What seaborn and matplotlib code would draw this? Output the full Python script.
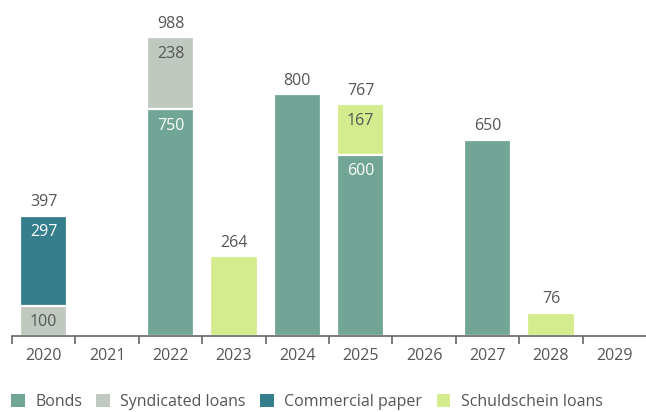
import numpy as np
import pandas as pd
import matplotlib.pyplot as plt
from matplotlib.patches import Patch
import seaborn as sns

years = ['2020', '2021', '2022', '2023', '2024', '2025', '2026', '2027', '2028', '2029']
series = ['Bonds', 'Syndicated loans', 'Commercial paper', 'Schuldschein loans']
bonds = [0, 0, 750, 0, 800, 600, 0, 650, 0, 0]
syndicated = [100, 0, 238, 0, 0, 0, 0, 0, 0, 0]
commercial = [297, 0, 0, 0, 0, 0, 0, 0, 0, 0]
schuldschein = [0, 0, 0, 264, 0, 167, 0, 0, 76, 0]
colors = ['#71a596', '#c0c9bf', '#357e8b', '#d4ec8d']
label_colors = ['white', '#555555', 'white', '#555555']

sns.set_style('white')
plt.rcParams['font.family'] = ['Open Sans', 'DejaVu Sans']

layers = np.array([bonds, syndicated, commercial, schuldschein])
cum = layers.cumsum(axis=0)
totals = cum[-1]

fig = plt.figure(figsize=(6.46, 4.12), dpi=100)
ax = fig.add_axes([12 / 646, 76 / 412, 634 / 646, 336 / 412])

# draw from top layer down so lower segments cover upper cumulative bars
for k in range(len(series) - 1, -1, -1):
    mask = layers[k] > 0
    df = pd.DataFrame({'year': np.array(years)[mask], 'val': cum[k][mask]})
    sns.barplot(data=df, x='year', y='val', order=years, color=colors[k],
                width=0.75, edgecolor='white', linewidth=1.6, saturation=1, ax=ax)

# segment labels for stacked bars
for i, y in enumerate(years):
    n_seg = (layers[:, i] > 0).sum()
    if n_seg > 1:
        for k in range(len(series)):
            if layers[k, i] > 0:
                ax.annotate(str(layers[k, i]), (i, cum[k, i]), xytext=(0, -6),
                            textcoords='offset points', ha='center', va='top',
                            fontsize=11.5, color=label_colors[k])
    if totals[i] > 0:
        ax.annotate(str(totals[i]), (i, totals[i]), xytext=(0, 4),
                    textcoords='offset points', ha='center', va='bottom',
                    fontsize=11.5, color='#555555')

ax.set_xlim(-0.5, 9.5)
ax.set_ylim(0, 1112)
ax.set_xlabel('')
ax.set_ylabel('')
ax.set_yticks([])
sns.despine(ax=ax, left=True)
ax.spines['bottom'].set_color('#666666')
ax.spines['bottom'].set_linewidth(1.2)
ax.set_xticks(range(len(years)))
ax.set_xticklabels(years, fontsize=11.5, color='#555555')
ax.set_xticks(np.arange(-0.5, 9.0, 1.0), minor=True)
ax.tick_params(axis='x', which='major', length=0, pad=9)
ax.tick_params(axis='x', which='minor', length=6, width=1.2, color='#666666', bottom=True)

handles = [Patch(facecolor=c, edgecolor='none') for c in colors]
fig.legend(handles, series, loc='lower left', bbox_to_anchor=(-0.005, -0.03), ncol=4,
           frameon=False, fontsize=11.5, handlelength=0.85, handleheight=0.85,
           handletextpad=0.65, columnspacing=0.9, labelcolor='#555555')

fig.savefig('out.png', dpi=100)
